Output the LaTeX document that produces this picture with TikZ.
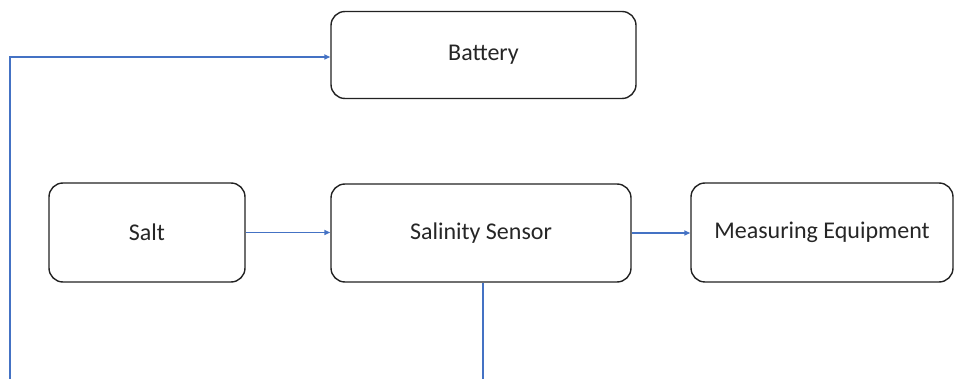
\documentclass[tikz,border=0pt]{standalone}
\usepackage{fontspec}
\setmainfont{Carlito}
\usetikzlibrary{arrows.meta}
\definecolor{linkblue}{HTML}{4472C4}
\definecolor{boxline}{HTML}{222222}
\tikzset{
  block/.style={draw=boxline, line width=1.4pt, rounded corners=14pt, fill=white,
    inner sep=0pt, font=\fontsize{24}{28}\selectfont, text=black!85},
  link/.style={draw=linkblue, line width=1.5pt},
  linkarrow/.style={link, -{Triangle[length=6pt,width=5pt]}}
}
\begin{document}
\begin{tikzpicture}[x=1pt,y=-1pt]
  \useasboundingbox (0,0) rectangle (954,379);
  % blocks
  \node[block, minimum width=305pt, minimum height=87pt] (battery) at (483.5,55) {Battery};
  \node[block, minimum width=196pt, minimum height=99pt] (salt) at (147,232.5) {Salt};
  \node[block, minimum width=300pt, minimum height=98pt] (sensor) at (481,233) {Salinity Sensor};
  \node[block, minimum width=262pt, minimum height=99pt] (meas) at (822,232.5) {Measuring Equipment};
  % free ends at the lower edge
  \coordinate (leftbottom) at (10,379);
  \coordinate (sensorbottom) at (483,379);
  \coordinate (corner) at (10,57);
  % connectors
  \draw[linkarrow] (leftbottom) -- (corner) -- (battery.west |- corner);
  \draw[linkarrow] (salt.east) -- (sensor.west |- salt.east);
  \draw[linkarrow] (sensor.east) -- (meas.west |- sensor.east);
  \draw[link] (sensor.south -| sensorbottom) -- (sensorbottom);
\end{tikzpicture}
\end{document}
